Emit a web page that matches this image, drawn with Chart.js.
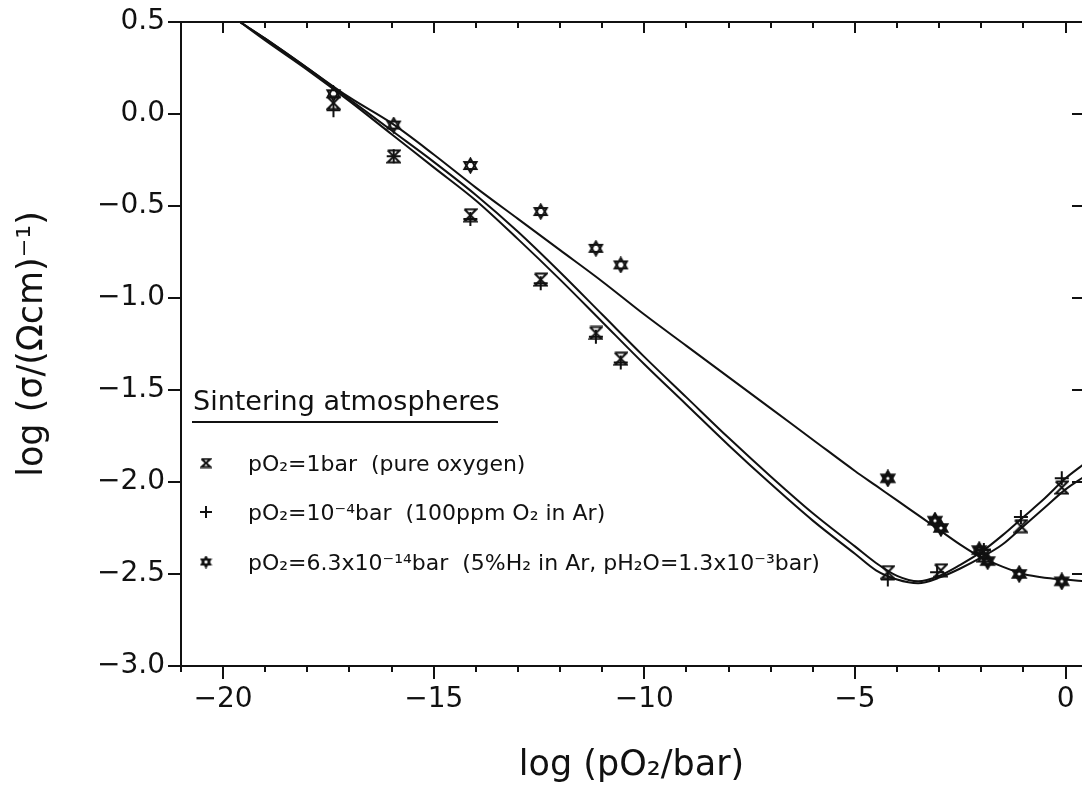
<!DOCTYPE html>
<html>
<head>
<meta charset="utf-8">
<script src="https://cdn.jsdelivr.net/npm/chart.js@4.4.1/dist/chart.umd.min.js"></script>
<style>
  html, body { margin: 0; padding: 0; overflow: hidden; background: #fff; }
  #wrap { position: relative; width: 1082px; height: 787px; }
</style>
</head>
<body>
<div id="wrap"><canvas id="c" width="1082" height="787"></canvas></div>
<script>
// Axis ticks
const xTickValues = [-20, -15, -10, -5, 0];
const yTickValues = [-3, -2.5, -2, -1.5, -1, -0.5, 0, 0.5];

// Measured conductivity, sintered in pure oxygen (pO2 = 1 bar)
const oxygenX = [-17.38, -15.95, -14.13, -12.46, -11.15, -10.56, -4.22, -2.96, -1.94, -1.06, -0.09];
const oxygenY = [0.06, -0.23, -0.55, -0.90, -1.19, -1.33, -2.49, -2.48, -2.40, -2.24, -2.03];

// Sintered in 100 ppm O2 in Ar (pO2 = 1e-4 bar)
const argonX = [-17.38, -15.95, -14.13, -12.46, -11.15, -10.56, -4.22, -3.05, -1.94, -1.06, -0.09];
const argonY = [0.02, -0.23, -0.57, -0.92, -1.21, -1.35, -2.53, -2.49, -2.37, -2.19, -1.98];

// Sintered in 5% H2 in Ar (pO2 = 6.3e-14 bar)
const hydrogenX = [-17.38, -15.95, -14.13, -12.46, -11.15, -10.56, -4.22, -3.10, -2.96, -2.05, -1.85, -1.10, -0.09];
const hydrogenY = [0.11, -0.06, -0.28, -0.53, -0.73, -0.82, -1.98, -2.21, -2.25, -2.37, -2.43, -2.50, -2.54];

// Fitted curves
const fitX = [-19.6, -19, -18, -17, -16, -15, -14, -13, -12, -11, -10, -9, -8, -7, -6, -5, -4.5, -4, -3.5, -3, -2.5, -2, -1.5, -1, -0.5, 0, 0.45];
const fitOxygen = [0.5, 0.40, 0.24, 0.07, -0.11, -0.29, -0.47, -0.68, -0.90, -1.13, -1.36, -1.58, -1.80, -2.01, -2.21, -2.39, -2.48, -2.53, -2.55, -2.52, -2.47, -2.41, -2.34, -2.24, -2.14, -2.04, -1.97];
const fitArgon = [0.5, 0.41, 0.25, 0.08, -0.09, -0.26, -0.44, -0.64, -0.86, -1.09, -1.32, -1.54, -1.76, -1.97, -2.17, -2.35, -2.44, -2.51, -2.54, -2.51, -2.45, -2.38, -2.29, -2.19, -2.09, -1.98, -1.90];
const fitHydrogen = [0.5, 0.41, 0.25, 0.09, -0.05, -0.22, -0.40, -0.57, -0.74, -0.91, -1.09, -1.26, -1.43, -1.60, -1.77, -1.94, -2.02, -2.10, -2.18, -2.26, -2.34, -2.41, -2.46, -2.50, -2.52, -2.53, -2.54];

const FONT = "'DejaVu Sans', 'Liberation Sans', sans-serif";
const INK = '#111';

const zip = (xs, ys) => xs.map((x, i) => ({ x: x, y: ys[i] }));
const fmtMinus = s => s.replace('-', '\u2212');

// ---- marker glyphs ----
function makeCanvas(w, h) {
  const c = document.createElement('canvas');
  c.width = w; c.height = h;
  return c;
}
function hexagram(size, filled) {
  const c = makeCanvas(size, size);
  const g = c.getContext('2d');
  const cx = size / 2, cy = size / 2, r = size / 2 - 1.5;
  const tri = (a0) => {
    g.beginPath();
    for (let k = 0; k < 3; k++) {
      const a = a0 + k * 2 * Math.PI / 3;
      const px = cx + r * Math.cos(a), py = cy + r * Math.sin(a);
      if (k === 0) g.moveTo(px, py); else g.lineTo(px, py);
    }
    g.closePath();
  };
  g.strokeStyle = INK; g.fillStyle = INK; g.lineWidth = 2; g.lineJoin = 'miter';
  tri(-Math.PI / 2); if (filled) g.fill(); g.stroke();
  tri(Math.PI / 2); if (filled) g.fill(); g.stroke();
  if (filled) {
    g.fillStyle = '#fff';
    g.beginPath(); g.arc(cx, cy, 1.6, 0, 2 * Math.PI); g.fill();
  }
  return c;
}
function hourglass(w, h) {
  const c = makeCanvas(w, h);
  const g = c.getContext('2d');
  const l = 1.5, r = w - 1.5, t = 1.5, b = h - 1.5;
  g.strokeStyle = INK; g.lineWidth = 2;
  g.beginPath();
  g.moveTo(l, t); g.lineTo(r, t); g.lineTo(l, b); g.lineTo(r, b); g.lineTo(l, t);
  g.stroke();
  return c;
}
const starOpen = hexagram(17, false);
const starFilled = hexagram(18, true);
const glassMark = hourglass(15, 15);
const legendGlass = hourglass(12, 11);
const legendStar = hexagram(13, false);

// ---- frame, inward/outward tick marks and the legend box ----
// The right-hand frame edge sits just past the canvas; only its inward ticks show.
const framePlugin = {
  id: 'frame',
  afterDatasetsDraw(chart) {
    const { ctx, chartArea: a, scales: { x, y } } = chart;
    ctx.save();
    ctx.strokeStyle = INK;
    ctx.lineWidth = 2;
    ctx.lineCap = 'butt';
    ctx.beginPath();
    ctx.moveTo(a.left, a.top); ctx.lineTo(a.right, a.top);
    ctx.moveTo(a.left, a.bottom); ctx.lineTo(a.right, a.bottom);
    ctx.moveTo(a.left, a.top - 1); ctx.lineTo(a.left, a.bottom + 1);
    // x ticks: every unit, longer at labelled values
    for (let v = Math.ceil(x.min); v <= x.max; v++) {
      const px = Math.round(x.getPixelForValue(v));
      const major = xTickValues.includes(v);
      ctx.moveTo(px, a.bottom); ctx.lineTo(px, a.bottom + (major ? 13 : 6));
      ctx.moveTo(px, a.top); ctx.lineTo(px, a.top + (major ? 11 : 6));
    }
    // y ticks: outward on the left, inward on the right
    yTickValues.forEach(v => {
      const py = Math.round(y.getPixelForValue(v));
      ctx.moveTo(a.left, py); ctx.lineTo(a.left - 13, py);
      ctx.moveTo(a.right + 1, py); ctx.lineTo(a.right - 10, py);
    });
    ctx.stroke();

    // legend
    ctx.fillStyle = INK;
    ctx.textBaseline = 'alphabetic';
    ctx.textAlign = 'left';
    ctx.font = '27px ' + FONT;
    ctx.fillText('Sintering atmospheres', a.left + 12, a.top + 388);
    ctx.beginPath();
    ctx.moveTo(a.left + 11, a.top + 400); ctx.lineTo(a.left + 317, a.top + 400);
    ctx.stroke();
    ctx.font = '22px ' + FONT;
    const rows = [
      { mark: 'glass', text: 'pO\u2082=1bar  (pure oxygen)', yc: 441 },
      { mark: 'plus', text: 'pO\u2082=10\u207B\u2074bar  (100ppm O\u2082 in Ar)', yc: 490 },
      { mark: 'star', text: 'pO\u2082=6.3x10\u207B\u00B9\u2074bar  (5%H\u2082 in Ar, pH\u2082O=1.3x10\u207B\u00B3bar)', yc: 540 }
    ];
    rows.forEach(r => {
      const my = a.top + r.yc;
      const mx = a.left + 25;
      if (r.mark === 'glass') ctx.drawImage(legendGlass, mx - 6, my - 5.5);
      else if (r.mark === 'star') ctx.drawImage(legendStar, mx - 6.5, my - 6.5);
      else {
        ctx.beginPath();
        ctx.moveTo(mx - 6, my); ctx.lineTo(mx + 6, my);
        ctx.moveTo(mx, my - 6); ctx.lineTo(mx, my + 6);
        ctx.stroke();
      }
      ctx.fillText(r.text, a.left + 67, my + 8);
    });
    ctx.restore();
  }
};

const curve = (data) => ({
  type: 'line', data: data, borderColor: INK, borderWidth: 2,
  pointRadius: 0, fill: false, cubicInterpolationMode: 'monotone', order: 2
});

new Chart(document.getElementById('c'), {
  type: 'scatter',
  data: {
    datasets: [
      curve(zip(fitX, fitOxygen)),
      curve(zip(fitX, fitArgon)),
      curve(zip(fitX, fitHydrogen)),
      {
        label: 'pO2=1bar (pure oxygen)', data: zip(oxygenX, oxygenY),
        pointStyle: glassMark, pointRadius: 7, borderColor: INK, backgroundColor: INK, order: 1
      },
      {
        label: 'pO2=1e-4bar (100ppm O2 in Ar)', data: zip(argonX, argonY),
        pointStyle: 'cross', pointRadius: 7, borderWidth: 2, borderColor: INK, backgroundColor: INK, order: 1
      },
      {
        label: 'pO2=6.3e-14bar (5%H2 in Ar)', data: zip(hydrogenX, hydrogenY),
        pointStyle: ctx => (ctx.raw && ctx.raw.x > -5 ? starFilled : starOpen),
        pointRadius: 8, borderColor: INK, backgroundColor: INK, order: 1
      }
    ]
  },
  options: {
    responsive: false,
    animation: false,
    events: [],
    layout: { autoPadding: false, padding: { top: 22, right: 0, left: 0, bottom: 0 } },
    plugins: { legend: { display: false }, tooltip: { enabled: false } },
    scales: {
      x: {
        type: 'linear', min: -21, max: 0.39,
        grid: { display: false, drawTicks: false }, border: { display: false },
        afterBuildTicks: s => { s.ticks = xTickValues.map(v => ({ value: v })); },
        afterFit: s => { s.height = 121; s.paddingLeft = 0; s.paddingRight = 0; },
        ticks: {
          color: INK, font: { family: FONT, size: 28 }, padding: 17,
          maxRotation: 0, autoSkip: false,
          callback: v => fmtMinus(String(v))
        },
        title: {
          display: true, text: 'log (pO\u2082/bar)', color: INK,
          font: { family: FONT, size: 35 }, padding: { top: 0, bottom: 0 }
        }
      },
      y: {
        type: 'linear', min: -3, max: 0.5,
        grid: { display: false, drawTicks: false }, border: { display: false },
        afterBuildTicks: s => { s.ticks = yTickValues.map(v => ({ value: v })); },
        afterFit: s => { s.width = 181; s.paddingTop = 0; s.paddingBottom = 0; },
        ticks: {
          color: INK, font: { family: FONT, size: 28 }, padding: 16,
          callback: v => fmtMinus(Number(v).toFixed(1))
        },
        title: {
          display: true, text: 'log (\u03C3/(\u03A9cm)\u207B\u00B9)', color: INK,
          font: { family: FONT, size: 35 }, padding: { top: 12, bottom: 0 }
        }
      }
    }
  },
  plugins: [framePlugin]
});
</script>
</body>
</html>
